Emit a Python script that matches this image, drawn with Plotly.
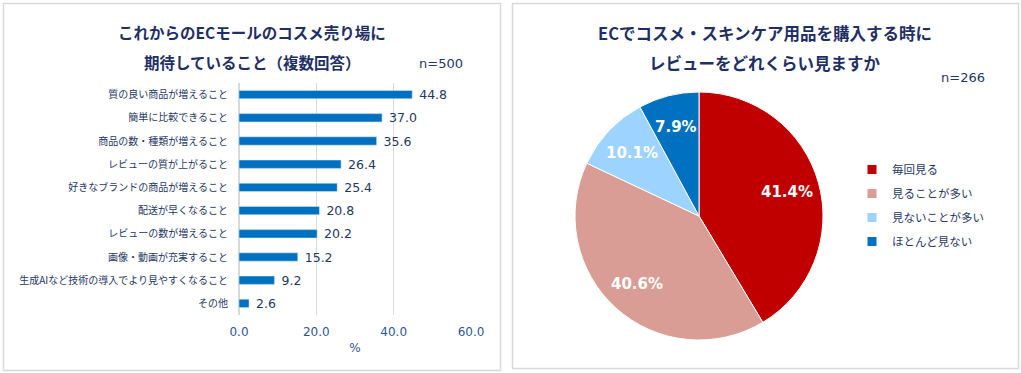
import math
import plotly.graph_objects as go

W, H = 1021, 373

# ---- data ----
bar_categories = [
    "質の良い商品が増えること",
    "簡単に比較できること",
    "商品の数・種類が増えること",
    "レビューの質が上がること",
    "好きなブランドの商品が増えること",
    "配送が早くなること",
    "レビューの数が増えること",
    "画像・動画が充実すること",
    "生成AIなど技術の導入でより見やすくなること",
    "その他",
]
bar_values = [44.8, 37.0, 35.6, 26.4, 25.4, 20.8, 20.2, 15.2, 9.2, 2.6]
x_ticks = [0, 20, 40, 60]
x_tick_labels = ["0.0", "20.0", "40.0", "60.0"]

pie_labels = ["毎回見る", "見ることが多い", "見ないことが多い", "ほとんど見ない"]
pie_values = [41.4, 40.6, 10.1, 7.9]
pie_colors = ["#C00000", "#DA9D95", "#9DD3FF", "#0070C0"]

left_title = ["これからのECモールのコスメ売り場に", "期待していること（複数回答）"]
right_title = ["ECでコスメ・スキンケア用品を購入する時に", "レビューをどれくらい見ますか"]
left_n = "n=500"
right_n = "n=266"

JP = "Noto Sans CJK JP"
NUM = "DejaVu Sans"
NAVY = "#1F2F66"
TEXT = "#1F3864"
TICK = "#2F5597"

def px(x):
    return x / W

def py(y):
    return 1 - y / H

fig = go.Figure()

fig.add_trace(go.Bar(
    x=bar_values, y=bar_categories, orientation="h",
    marker=dict(color="#0070C0"),
    width=0.36,
    text=[f" {v:.1f}" for v in bar_values],
    textposition="outside",
    constraintext="none",
    textfont=dict(family=NUM, size=12.5, color=TEXT),
    cliponaxis=False,
    showlegend=False,
    xaxis="x", yaxis="y",
))

# pie geometry (pixels)
PCX, PCY, PR = 699, 216, 124
fig.add_trace(go.Pie(
    labels=pie_labels, values=pie_values,
    marker=dict(colors=pie_colors, line=dict(color="white", width=1)),
    sort=False, direction="clockwise", rotation=0,
    textinfo="none",
    domain=dict(x=[px(PCX - PR), px(PCX + PR)], y=[py(PCY + PR), py(PCY - PR)]),
    showlegend=False,
    hoverinfo="label+percent",
))

# legend entries for the pie slices (one group each, so spacing can be set)
for lab, col in zip(pie_labels, pie_colors):
    fig.add_trace(go.Scatter(
        x=[None], y=[None], mode="markers", name=lab, legendgroup=lab,
        marker=dict(symbol="square", size=9, color=col),
        showlegend=True, hoverinfo="skip",
        xaxis="x", yaxis="y",
    ))

fig.update_layout(
    width=W, height=H,
    margin=dict(l=0, r=0, t=0, b=0, autoexpand=False),
    paper_bgcolor="white", plot_bgcolor="white",
    font=dict(family=JP, color=TEXT),
    xaxis=dict(
        domain=[px(239), px(471)], range=[0, 60],
        tickvals=x_ticks, ticktext=x_tick_labels,
        tickfont=dict(family=NUM, size=12, color=TICK),
        showgrid=True, gridcolor="#D9D9D9", gridwidth=1,
        zeroline=True, zerolinecolor="#D9D9D9",
        showline=False, ticks="", ticklabelstandoff=8,
        title=dict(text="%", font=dict(family=NUM, size=12, color=TICK), standoff=5),
        automargin=False,
        fixedrange=True,
    ),
    yaxis=dict(
        domain=[py(315), py(83)], autorange="reversed",
        tickfont=dict(family=JP, size=10, color=TEXT),
        showgrid=False, showline=False, ticks="", ticklabelstandoff=10,
        automargin=False,
        fixedrange=True,
    ),
    legend=dict(
        x=px(852), y=py(155), xanchor="left", yanchor="top",
        font=dict(family=JP, size=11.5, color=TEXT),
        bgcolor="rgba(0,0,0,0)",
        tracegroupgap=5,
        itemclick=False, itemdoubleclick=False,
    ),
    shapes=[
        dict(type="rect", xref="paper", yref="paper",
             x0=px(3.5), x1=px(500.5), y0=py(370.5), y1=py(3.5),
             line=dict(color="#D9D9D9", width=1.5)),
        dict(type="rect", xref="paper", yref="paper",
             x0=px(512.5), x1=px(1018.5), y0=py(368.5), y1=py(3.5),
             line=dict(color="#D9D9D9", width=1.5)),
    ],
)

ann = []
for i, t in enumerate(left_title):
    ann.append(dict(text=t, x=px(252), y=py(32 + 30 * i), xref="paper", yref="paper",
                    xanchor="center", yanchor="middle", showarrow=False,
                    font=dict(family=JP, size=15.5, color=NAVY, weight="bold")))
for i, t in enumerate(right_title):
    ann.append(dict(text=t, x=px(765), y=py(33 + 30 * i), xref="paper", yref="paper",
                    xanchor="center", yanchor="middle", showarrow=False,
                    font=dict(family=JP, size=16.5, color=NAVY, weight="bold")))
ann.append(dict(text=left_n, x=px(441), y=py(63), xref="paper", yref="paper",
                xanchor="center", yanchor="middle", showarrow=False,
                font=dict(family=NUM, size=13, color=TEXT)))
ann.append(dict(text=right_n, x=px(963), y=py(77), xref="paper", yref="paper",
                xanchor="center", yanchor="middle", showarrow=False,
                font=dict(family=NUM, size=13, color=TEXT)))

# slice labels placed at ~0.74 of the radius, at each slice's mid-angle
total = sum(pie_values)
cum = 0.0
for v in pie_values:
    mid = (cum + v / 2) / total * 2 * math.pi
    cum += v
    lx = PCX + 0.74 * PR * math.sin(mid)
    ly = PCY - 0.74 * PR * math.cos(mid)
    ann.append(dict(text=f"{v:.1f}%", x=px(lx), y=py(ly), xref="paper", yref="paper",
                    xanchor="center", yanchor="middle", showarrow=False,
                    font=dict(family=NUM, size=15, color="white", weight="bold")))
fig.update_layout(annotations=ann)

fig.write_html("out.html", config={"displayModeBar": False},
               post_script="document.body.style.margin='0px';")
